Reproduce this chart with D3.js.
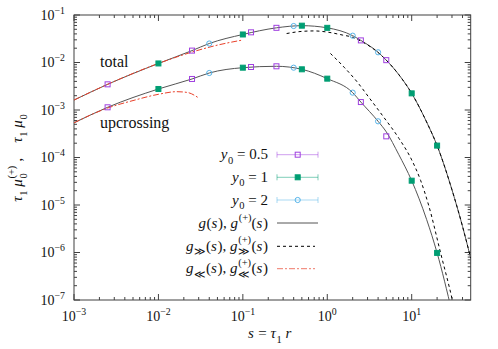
<!DOCTYPE html>
<html><head><meta charset="utf-8">
<script src="https://cdn.jsdelivr.net/npm/d3@7"></script>
<style>body{margin:0;background:#fff} svg text{font-family:'Liberation Serif', serif !important}</style>
</head><body>
<svg id="c" width="498" height="349"></svg>
<script>
// ---------- data ----------
const xTicks = [1e-3, 1e-2, 1e-1, 1, 10];
const xTickExp = ["−3", "−2", "−1", "0", "1"];
const yTicks = [1e-7, 1e-6, 1e-5, 1e-4, 1e-3, 1e-2, 1e-1];
const yTickExp = ["−7", "−6", "−5", "−4", "−3", "−2", "−1"];

// g(s) total, solid
const totS = [0.001, 0.0025, 0.01, 0.025, 0.04, 0.1, 0.25, 0.5, 1, 2, 2.5, 4, 5, 7, 10, 15, 20, 30, 40, 50];
const totV = [1.62e-3, 3.47e-3, 9.55e-3, 1.78e-2, 2.51e-2, 3.89e-2, 5.37e-2, 5.96e-2, 5.37e-2, 3.67e-2, 2.92e-2, 1.64e-2, 1.12e-2, 5.62e-3, 2.24e-3, 5.62e-4, 1.78e-4, 2.09e-5, 3.55e-6, 7.6e-7];
// g+(s) upcrossing, solid
const upS = [0.001, 0.0025, 0.01, 0.025, 0.04, 0.1, 0.25, 0.5, 1, 2, 2.5, 4, 5, 7, 10, 15, 20, 30];
const upV = [5.37e-4, 1.14e-3, 2.77e-3, 4.50e-3, 6.01e-3, 7.78e-3, 8.32e-3, 7.19e-3, 4.57e-3, 2.32e-3, 1.47e-3, 5.78e-4, 3.47e-4, 1.17e-4, 3.25e-5, 5.0e-6, 9.8e-7, 5.6e-8];
// large-s asymptotes, dashed
const totLargeS = [0.33, 0.5, 0.7, 1, 1.5, 2, 2.5, 4, 5, 7, 10, 15, 20, 30, 40, 50];
const totLargeV = [4.07e-2, 4.52e-2, 4.62e-2, 4.37e-2, 3.80e-2, 3.39e-2, 2.82e-2, 1.62e-2, 1.12e-2, 5.62e-3, 2.24e-3, 5.62e-4, 1.78e-4, 2.09e-5, 3.55e-6, 7.6e-7];
const upLargeS = [1.09, 1.585, 2.24, 3.16, 4.57, 7.08, 10, 12.8, 15.85, 22.0, 30.3, 33];
const upLargeV = [1.55e-2, 7.94e-3, 3.98e-3, 1.78e-3, 7.41e-4, 2.51e-4, 8.91e-5, 3.24e-5, 1.0e-5, 9.8e-7, 1.0e-7, 5e-8];
// small-s asymptotes, dash-dot red
const totSmallS = [0.001, 0.0025, 0.01, 0.025, 0.05, 0.1];
const totSmallV = [1.62e-3, 3.47e-3, 9.55e-3, 1.66e-2, 2.32e-2, 2.98e-2];
const upSmallS = [0.001, 0.0025, 0.005, 0.01, 0.0165, 0.022, 0.0296];
const upSmallV = [5.37e-4, 1.10e-3, 1.58e-3, 2.14e-3, 2.43e-3, 2.34e-3, 1.82e-3];

// simulation points
const y05S = [0.0025, 0.025, 0.125, 0.25, 2.5, 5];
const y05Tot = [3.47e-3, 1.78e-2, 4.32e-2, 5.37e-2, 2.92e-2, 1.12e-2];
const y05Up = [1.14e-3, 4.50e-3, 8.04e-3, 8.32e-3, 1.47e-3, 2.79e-4];
const y1S = [0.01, 0.1, 0.5, 1, 10, 20];
const y1Tot = [9.55e-3, 3.89e-2, 5.96e-2, 5.37e-2, 2.24e-3, 1.78e-4];
const y1Up = [2.77e-3, 7.78e-3, 7.19e-3, 4.57e-3, 3.25e-5, 9.8e-7];
const y2S = [0.04, 0.4, 2, 4];
const y2Tot = [2.51e-2, 5.86e-2, 3.67e-2, 1.64e-2];
const y2Up = [6.01e-3, 7.78e-3, 2.32e-3, 5.78e-4];

// ---------- layout ----------
const L = 74, R = 470.7, T = 15, B = 300;
const svg = d3.select("#c");
const x = d3.scaleLog().domain([1e-3, 50]).range([L, R]);
const y = d3.scaleLog().domain([1e-7, 1e-1]).range([B, T]);

const C = {purple: "#a040e0", green: "#009e73", cyan: "#56b4e9", red: "#e8402a", gray: "#555", axis: "#404040"};

svg.append("clipPath").attr("id", "clip").append("rect").attr("x", L).attr("y", T).attr("width", R - L).attr("height", B - T);

function mkText(g) {
  return g.append("text").attr("font-family", "Liberation Serif")
    .style("font-family", "Liberation Serif", "important").style("white-space", "pre").attr("fill", "#111");
}
// rich text helper: segs = [[text, opts]] opts: i italic, sub, sup, stack:[sub,sup]
function rich(parent, segs, px, py, anchor, fs, rot) {
  const g = parent.append("g");
  let cx = 0;
  segs.forEach(([t, o]) => {
    o = o || {};
    if (o.stack) {
      const a = mkText(g).attr("x", cx).attr("y", fs * 0.3).style("font-size", fs * 0.7 + "px").text(o.stack[0]);
      const b = mkText(g).attr("x", cx).attr("y", -fs * 0.5).style("font-size", fs * 0.7 + "px").text(o.stack[1]);
      cx += Math.max(a.node().getComputedTextLength(), b.node().getComputedTextLength()) + 0.5;
      return;
    }
    const el = mkText(g).attr("x", cx).text(t);
    let size = fs, dy = 0;
    if (o.sub) { size = fs * 0.7; dy = fs * 0.3; }
    if (o.sup) { size = fs * 0.7; dy = -fs * 0.42; }
    el.attr("y", dy).style("font-size", size + "px");
    if (o.i) el.style("font-style", "italic");
    cx += el.node().getComputedTextLength() + (o.i ? 0.6 : 0);
  });
  let off = 0;
  if (anchor === "end") off = -cx;
  if (anchor === "middle") off = -cx / 2;
  g.attr("transform", `translate(${px},${py})` + (rot ? ` rotate(${rot})` : "") + ` translate(${off},0)`);
  return g;
}

// ---------- axes ----------
const axisG = svg.append("g").attr("stroke", C.axis).attr("stroke-width", 1).attr("fill", "none");
axisG.append("rect").attr("x", L).attr("y", T).attr("width", R - L).attr("height", B - T);

function minors(lo, hi) {
  const out = [];
  for (let e = Math.floor(Math.log10(lo)); e <= Math.ceil(Math.log10(hi)); e++)
    for (let k = 2; k <= 9; k++) { const v = k * Math.pow(10, e); if (v > lo && v < hi) out.push(v); }
  return out;
}
const xMin = minors(1e-3, 50), yMin = minors(1e-7, 1e-1);
xTicks.forEach(v => { const px = x(v);
  axisG.append("line").attr("x1", px).attr("x2", px).attr("y1", B).attr("y2", B - 6);
  axisG.append("line").attr("x1", px).attr("x2", px).attr("y1", T).attr("y2", T + 6); });
xMin.forEach(v => { const px = x(v);
  axisG.append("line").attr("x1", px).attr("x2", px).attr("y1", B).attr("y2", B - 3);
  axisG.append("line").attr("x1", px).attr("x2", px).attr("y1", T).attr("y2", T + 3); });
yTicks.forEach(v => { const py = y(v);
  axisG.append("line").attr("x1", L).attr("x2", L + 6).attr("y1", py).attr("y2", py);
  axisG.append("line").attr("x1", R).attr("x2", R - 6).attr("y1", py).attr("y2", py); });
yMin.forEach(v => { const py = y(v);
  axisG.append("line").attr("x1", L).attr("x2", L + 3).attr("y1", py).attr("y2", py);
  axisG.append("line").attr("x1", R).attr("x2", R - 3).attr("y1", py).attr("y2", py); });

const tf = 14;
xTicks.forEach((v, i) => rich(svg, [["10"], [xTickExp[i], {sup: 1}]], x(v), 321, "middle", tf));
yTicks.forEach((v, i) => rich(svg, [["10"], [yTickExp[i], {sup: 1}]], 65, y(v) + 4.5, "end", tf));

// axis titles
rich(svg, [["s", {i: 1}], [" = "], ["τ", {i: 1}], ["1", {sub: 1}], [" "], ["r", {i: 1}]], 270, 338, "middle", 15);
rich(svg, [["τ", {i: 1}], ["1", {sub: 1}], [" "], ["μ", {i: 1}], ["", {stack: ["0", "(+)"]}], [" ,    "],
           ["τ", {i: 1}], ["1", {sub: 1}], [" "], ["μ", {i: 1}], ["0", {sub: 1}]], 22, 158, "middle", 15, -90);

// ---------- curves ----------
const line = d3.line().x(d => x(d[0])).y(d => y(d[1])).curve(d3.curveMonotoneX);
const zip = (a, b) => a.map((v, i) => [v, b[i]]);
const curves = svg.append("g").attr("clip-path", "url(#clip)").attr("fill", "none");
curves.append("path").attr("d", line(zip(totS, totV))).attr("stroke", C.gray).attr("stroke-width", 1);
curves.append("path").attr("d", line(zip(upS, upV))).attr("stroke", C.gray).attr("stroke-width", 1);
curves.append("path").attr("d", line(zip(totLargeS, totLargeV))).attr("stroke", "#000").attr("stroke-width", 1).attr("stroke-dasharray", "3,3");
curves.append("path").attr("d", line(zip(upLargeS, upLargeV))).attr("stroke", "#000").attr("stroke-width", 1).attr("stroke-dasharray", "3,3");
curves.append("path").attr("d", line(zip(totSmallS, totSmallV))).attr("stroke", C.red).attr("stroke-width", 1).attr("stroke-dasharray", "6,2,2,2");
curves.append("path").attr("d", line(zip(upSmallS, upSmallV))).attr("stroke", C.red).attr("stroke-width", 1).attr("stroke-dasharray", "6,2,2,2");

// ---------- legend lines ----------
const lg = svg.append("g");
const rows = [154.7, 177.3, 200, 223, 246.3, 268.7];
const lx1 = 277, lx2 = 318, lxm = 297.7, tx = 268, lf = 15;
function errLeg(py, col) {
  const g = lg.append("g").attr("stroke", col).attr("stroke-opacity", 0.5).attr("stroke-width", 1);
  g.append("line").attr("x1", lx1).attr("x2", lx2).attr("y1", py).attr("y2", py);
  g.append("line").attr("x1", lx1).attr("x2", lx1).attr("y1", py - 3).attr("y2", py + 3);
  g.append("line").attr("x1", lx2).attr("x2", lx2).attr("y1", py - 3).attr("y2", py + 3);
}
errLeg(rows[0], C.purple);
errLeg(rows[1], C.green);
errLeg(rows[2], C.cyan);
lg.append("line").attr("x1", lx1).attr("x2", lx2).attr("y1", rows[3]).attr("y2", rows[3]).attr("stroke", C.gray);
lg.append("line").attr("x1", lx1).attr("x2", lx2 - 3).attr("y1", rows[4]).attr("y2", rows[4]).attr("stroke", "#000").attr("stroke-dasharray", "3,3");
lg.append("line").attr("x1", lx1).attr("x2", lx2 - 3).attr("y1", rows[5]).attr("y2", rows[5]).attr("stroke", C.red).attr("stroke-opacity", 0.7).attr("stroke-dasharray", "6,2,2,2");

// ---------- markers ----------
const mk = svg.append("g");
function sq(px, py, col, fill) {
  mk.append("rect").attr("x", px - 2.5).attr("y", py - 2.5).attr("width", 5).attr("height", 5)
    .attr("fill", fill ? col : "none").attr("stroke", col).attr("stroke-width", 1);
}
function circ(px, py, col) {
  mk.append("circle").attr("cx", px).attr("cy", py).attr("r", 2.6).attr("fill", "none").attr("stroke", col).attr("stroke-width", 1);
}
y05S.forEach((s, i) => { sq(x(s), y(y05Tot[i]), C.purple, false); sq(x(s), y(y05Up[i]), C.purple, false); });
y1S.forEach((s, i) => { sq(x(s), y(y1Tot[i]), C.green, true); sq(x(s), y(y1Up[i]), C.green, true); });
y2S.forEach((s, i) => { circ(x(s), y(y2Tot[i]), C.cyan); circ(x(s), y(y2Up[i]), C.cyan); });
sq(lxm, rows[0], C.purple, false);
sq(lxm, rows[1], C.green, true);
circ(lxm, rows[2], C.cyan);

// curve labels
mkText(svg).attr("x", 100).attr("y", 66.5).style("font-size", "16px").text("total");
mkText(svg).attr("x", 100).attr("y", 128).style("font-size", "16px").text("upcrossing");

// ---------- legend text ----------
const yl = [["y", {i: 1}], ["0", {sub: 1}]];
rich(svg, yl.concat([[" = 0.5"]]), tx, rows[0] + 4.5, "end", lf);
rich(svg, yl.concat([[" = 1"]]), tx, rows[1] + 4.5, "end", lf);
rich(svg, yl.concat([[" = 2"]]), tx, rows[2] + 4.5, "end", lf);
rich(svg, [["g", {i: 1}], ["("], ["s", {i: 1}], ["), "], ["g", {i: 1}], ["(+)", {sup: 1}], ["("], ["s", {i: 1}], [")"]], tx, rows[3] + 4.5, "end", lf);
rich(svg, [["g", {i: 1}], ["≫", {sub: 1}], ["("], ["s", {i: 1}], ["), "], ["g", {i: 1}], ["", {stack: ["≫", "(+)"]}], ["("], ["s", {i: 1}], [")"]], tx, rows[4] + 4.5, "end", lf);
rich(svg, [["g", {i: 1}], ["≪", {sub: 1}], ["("], ["s", {i: 1}], ["), "], ["g", {i: 1}], ["", {stack: ["≪", "(+)"]}], ["("], ["s", {i: 1}], [")"]], tx, rows[5] + 4.5, "end", lf);
</script>
</body></html>
